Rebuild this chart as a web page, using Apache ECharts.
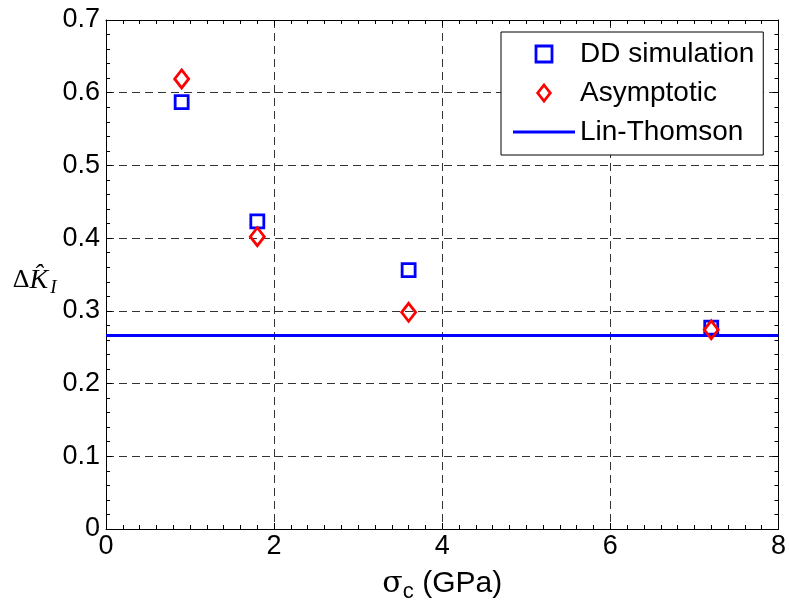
<!DOCTYPE html>
<html>
<head>
<meta charset="utf-8">
<style>
  html, body { margin: 0; padding: 0; background: #fff; }
  #chart { width: 789px; height: 615px; }
</style>
<script src="https://cdn.jsdelivr.net/npm/echarts@6/dist/echarts.min.js"></script>
</head>
<body>
<div id="chart"></div>
<script>
// Critical stress sigma_c (GPa) at which each case was run
const sigmaC = [0.9, 1.8, 3.6, 7.2];
// Normalised SIF shift from discrete-dislocation runs
const ddSimulation = [0.587, 0.423, 0.356, 0.277];
// Asymptotic estimate
const asymptotic = [0.619, 0.402, 0.298, 0.274];
// Lin-Thomson constant value and the x span it is drawn over
const linThomson = 0.266;
const xSpan = [0, 8];

const seriesNames = ['DD simulation', 'Asymptotic', 'Lin-Thomson'];

const pairs = (xs, ys) => xs.map((x, i) => [x, ys[i]]);

const chart = echarts.init(document.getElementById('chart'), null, { renderer: 'canvas' });

const gridDash = { color: '#333', width: 1, type: [8, 5] };
const frameLine = { show: true, onZero: false, lineStyle: { color: '#000', width: 1 } };

const xBase = { type: 'value', min: 0, max: 8, interval: 2 };
const yBase = { type: 'value', min: 0, max: 0.7, interval: 0.1 };

chart.setOption({
  animation: false,
  backgroundColor: '#fff',
  textStyle: { fontFamily: 'Liberation Sans' },
  grid: { left: 106, right: 10, top: 20, bottom: 86, containLabel: false },
  xAxis: [
    Object.assign({}, xBase, {
      position: 'bottom',
      axisLine: frameLine,
      axisTick: { show: true, inside: true, length: 6, lineStyle: { color: '#000' } },
      minorTick: { show: true, splitNumber: 10, length: 4, lineStyle: { color: '#000' } },
      splitLine: { show: true, lineStyle: gridDash },
      axisLabel: { color: '#000', fontSize: 27, margin: 4, fontFamily: 'Liberation Sans' },
      name: '{s|σ}{c|c}{t| (GPa)}',
      nameLocation: 'middle',
      nameGap: 36,
      nameTextStyle: {
        rich: {
          s: { fontSize: 30, fontFamily: 'DejaVu Serif', color: '#000' },
          c: { fontSize: 22, fontFamily: 'Liberation Sans', color: '#000', padding: [16, 0, 0, 0] },
          t: { fontSize: 30, fontFamily: 'Liberation Sans', color: '#000' }
        }
      }
    }),
    Object.assign({}, xBase, {
      position: 'top',
      axisLine: frameLine,
      axisTick: { show: true, inside: true, length: 6, lineStyle: { color: '#000' } },
      minorTick: { show: true, splitNumber: 10, length: 4, lineStyle: { color: '#000' } },
      splitLine: { show: false },
      axisLabel: { show: false }
    })
  ],
  yAxis: [
    Object.assign({}, yBase, {
      position: 'left',
      axisLine: frameLine,
      axisTick: { show: true, inside: true, length: 6, lineStyle: { color: '#000' } },
      minorTick: { show: true, splitNumber: 5, length: 4, lineStyle: { color: '#000' } },
      splitLine: { show: true, lineStyle: gridDash },
      axisLabel: { color: '#000', fontSize: 27, margin: 6, fontFamily: 'Liberation Sans' },
      name: '{d|Δ}{k|K̂}{i|I}',
      nameLocation: 'middle',
      nameRotate: 0,
      nameGap: 43,
      nameTextStyle: {
        align: 'right',
        padding: [12, 0, 0, 0],
        rich: {
          d: { fontSize: 26, fontFamily: 'Liberation Serif', color: '#000' },
          k: { fontSize: 28, fontFamily: 'Liberation Serif', fontStyle: 'italic', color: '#000' },
          i: { fontSize: 19, fontFamily: 'Liberation Serif', fontStyle: 'italic', color: '#000', padding: [14, 0, 0, 2] }
        }
      }
    }),
    Object.assign({}, yBase, {
      position: 'right',
      axisLine: frameLine,
      axisTick: { show: true, inside: true, length: 6, lineStyle: { color: '#000' } },
      minorTick: { show: true, splitNumber: 5, length: 4, lineStyle: { color: '#000' } },
      splitLine: { show: false },
      axisLabel: { show: false }
    })
  ],
  legend: {
    orient: 'vertical',
    left: 501,
    top: 32,
    itemWidth: 62,
    itemHeight: 16,
    itemGap: 9,
    padding: [7, 9, 8, 12],
    backgroundColor: '#fff',
    borderColor: '#000',
    borderWidth: 1,
    borderRadius: 0,
    symbolKeepAspect: true,
    textStyle: { fontSize: 28, lineHeight: 30, color: '#000', fontFamily: 'Liberation Sans' },
    data: [
      {
        name: seriesNames[0],
        icon: 'path://M0,0L10,0L10,10L0,10Z',
        itemStyle: { color: 'rgba(0,0,0,0)', borderColor: '#0000ff', borderWidth: 2.8 }
      },
      {
        name: seriesNames[1],
        icon: 'path://M5.5,0L11,7L5.5,14L0,7Z',
        itemStyle: { color: 'rgba(0,0,0,0)', borderColor: '#ff0000', borderWidth: 2.8 }
      },
      {
        name: seriesNames[2],
        icon: 'path://M0,0L62,0L62,3L0,3Z',
        itemStyle: { color: '#0000ff', borderWidth: 0 }
      }
    ]
  },
  series: [
    {
      name: seriesNames[2],
      type: 'line',
      data: xSpan.map(x => [x, linThomson]),
      symbol: 'none',
      lineStyle: { color: '#0000ff', width: 3 },
      itemStyle: { color: '#0000ff' },
      z: 2
    },
    {
      name: seriesNames[0],
      type: 'scatter',
      data: pairs(sigmaC, ddSimulation),
      symbol: 'rect',
      symbolSize: 13,
      itemStyle: { color: 'rgba(0,0,0,0)', borderColor: '#0000ff', borderWidth: 2.8, opacity: 1 },
      z: 3
    },
    {
      name: seriesNames[1],
      type: 'scatter',
      data: pairs(sigmaC, asymptotic),
      symbol: 'diamond',
      symbolSize: [14, 18],
      itemStyle: { color: 'rgba(0,0,0,0)', borderColor: '#ff0000', borderWidth: 2.8, opacity: 1 },
      z: 4
    }
  ]
});
</script>
</body>
</html>
